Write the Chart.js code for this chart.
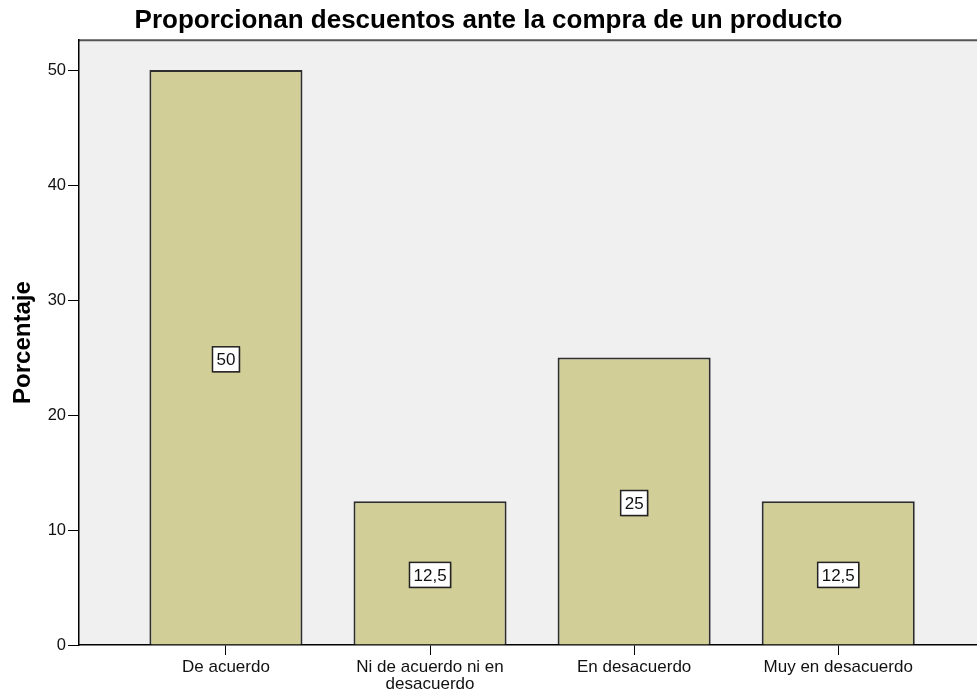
<!DOCTYPE html>
<html>
<head>
<meta charset="utf-8">
<script src="https://cdn.jsdelivr.net/npm/chart.js@4"></script>
<style>
  html, body { margin: 0; padding: 0; background: #fff; }
</style>
</head>
<body>
<canvas id="chart" width="977" height="693"></canvas>
<script>
const categories = [['De acuerdo'], ['Ni de acuerdo ni en', 'desacuerdo'], ['En desacuerdo'], ['Muy en desacuerdo']]
const percentages = [50, 12.5, 25, 12.5]
const yTicks = [0, 10, 20, 30, 40, 50]
const chartTitle = 'Proporcionan descuentos ante la compra de un producto'
const yTitle = 'Porcentaje'

const FONT = '"Liberation Sans", Arial, sans-serif'

// grey plot area + top frame line, like the SPSS output
const plotBackground = {
    id: 'plotBackground',
    beforeDraw(chart) {
        const {ctx, chartArea: a} = chart
        ctx.save()
        ctx.fillStyle = '#f0f0f0'
        ctx.fillRect(a.left, a.top, a.right - a.left, a.bottom - a.top)
        ctx.strokeStyle = '#555'
        ctx.lineWidth = 2
        ctx.beginPath()
        ctx.moveTo(a.left, a.top)
        ctx.lineTo(a.right, a.top)
        ctx.stroke()
        ctx.restore()
    }
}

// boxed value labels in the middle of each bar
const valueBoxes = {
    id: 'valueBoxes',
    afterDatasetsDraw(chart) {
        const {ctx} = chart
        const meta = chart.getDatasetMeta(0)
        ctx.save()
        ctx.font = '17px ' + FONT
        ctx.textAlign = 'center'
        ctx.textBaseline = 'middle'
        meta.data.forEach((bar, i) => {
            const text = String(percentages[i]).replace('.', ',')
            const cx = bar.x
            const cy = (bar.y + bar.base) / 2 + 2
            const w = ctx.measureText(text).width + 8
            const h = 25
            ctx.fillStyle = 'rgba(0,0,0,0.25)'
            ctx.fillRect(cx - w / 2 + 1, cy - h / 2 + 1, w, h)
            ctx.fillStyle = '#fff'
            ctx.fillRect(cx - w / 2, cy - h / 2, w, h)
            ctx.strokeStyle = '#222'
            ctx.lineWidth = 1.5
            ctx.strokeRect(cx - w / 2, cy - h / 2, w, h)
            ctx.fillStyle = '#111'
            ctx.fillText(text, cx, cy + 1)
        })
        ctx.restore()
    }
}

const ctx = document.getElementById('chart').getContext('2d')
const myChart = new Chart(ctx, {
    type: 'bar',
    data: {
        datasets: [{
            data: percentages.map((v, i) => ({x: i, y: v})),
            backgroundColor: '#d2ce98',
            borderColor: '#2e2e2e',
            borderWidth: 2,
            barPercentage: 0.75,
            categoryPercentage: 1
        }]
    },
    options: {
        responsive: false,
        animation: false,
        layout: {padding: 0},
        plugins: {
            legend: {display: false},
            tooltip: {enabled: false},
            title: {
                display: true,
                text: chartTitle,
                color: '#000',
                font: {family: FONT, size: 26, weight: 'bold'},
                padding: {top: 5, bottom: 4}
            }
        },
        scales: {
            x: {
                type: 'linear',
                offset: false,
                min: -0.72,
                max: 3.68,
                afterBuildTicks: s => { s.ticks = categories.map((c, i) => ({value: i})) },
                afterFit: s => { s.height = 48 },
                ticks: {
                    callback: v => categories[v],
                    autoSkip: false,
                    maxRotation: 0,
                    color: '#111',
                    padding: 4,
                    font: {family: FONT, size: 17, lineHeight: 1}
                },
                grid: {offset: false, drawOnChartArea: false, tickLength: 10, color: '#000'},
                border: {color: '#000', width: 1.5}
            },
            y: {
                min: 0,
                max: 52.6,
                afterBuildTicks: s => { s.ticks = yTicks.map(v => ({value: v})) },
                afterFit: s => { s.width = 79 },
                ticks: {
                    color: '#111',
                    padding: 2,
                    font: {family: FONT, size: 16.5}
                },
                grid: {drawOnChartArea: false, tickLength: 11, color: '#000'},
                border: {color: '#000', width: 1.5},
                title: {
                    display: true,
                    text: yTitle,
                    color: '#000',
                    font: {family: FONT, size: 24, weight: 'bold'},
                    padding: {top: 9, bottom: 0}
                }
            }
        }
    },
    plugins: [plotBackground, valueBoxes]
})
</script>
</body>
</html>
